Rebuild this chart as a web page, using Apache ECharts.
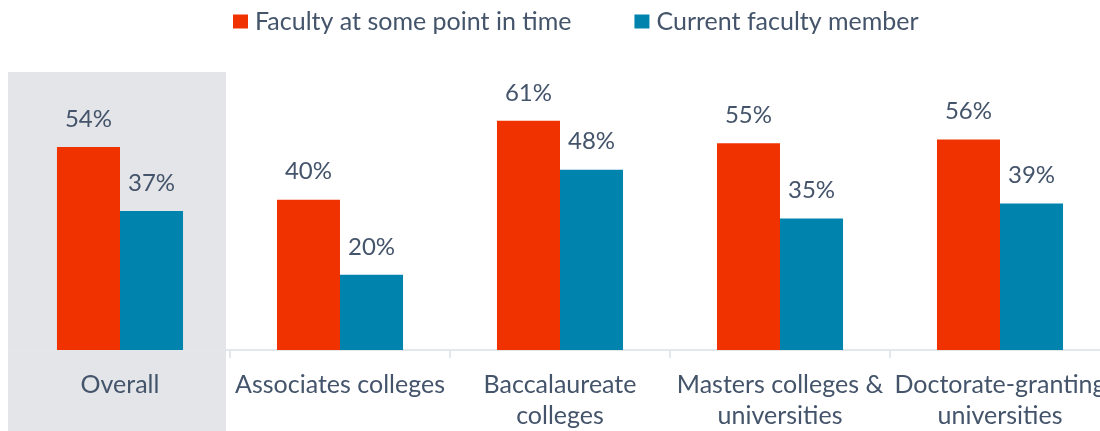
<!DOCTYPE html>
<html>
<head>
<meta charset="utf-8">
<script src="https://cdn.jsdelivr.net/npm/echarts@6/dist/echarts.min.js"></script>
<style>
  html, body { margin: 0; padding: 0; background: #ffffff; }
  #chart { width: 1100px; height: 431px; }
</style>
</head>
<body>
<div id="chart"></div>
<script>
// Share of respondents by institution type
const categories = [
  'Overall',
  'Associates colleges',
  'Baccalaureate\ncolleges',
  'Masters colleges &\nuniversities',
  'Doctorate-granting\nuniversities'
];
const seriesNames = ['Faculty at some point in time', 'Current faculty member'];
const everFaculty = [54, 40, 61, 55, 56];
const currentFaculty = [37, 20, 48, 35, 39];

const TEXT = '#44546A';
const FONT = 'Lato';
const RED = '#F03200';
const TEAL = '#0084AD';

const chart = echarts.init(document.getElementById('chart'), null, { renderer: 'canvas' });

const labelStyle = {
  show: true,
  position: 'top',
  distance: 16,
  color: TEXT,
  fontFamily: FONT,
  fontSize: 24,
  lineHeight: 24,
  formatter: p => p.value + '%'
};

chart.setOption({
  animation: false,
  textStyle: { fontFamily: FONT },
  legend: {
    top: 9,
    left: 233,
    padding: 0,
    itemWidth: 15,
    itemHeight: 14,
    itemGap: 63,
    icon: 'rect',
    textStyle: { color: TEXT, fontFamily: FONT, fontSize: 25, padding: [0, 0, 0, 2] },
    data: seriesNames
  },
  // The last group runs past the right edge, as on the printed figure
  grid: { left: 10, width: 1100, top: 87, bottom: 81, containLabel: false, outerBoundsMode: 'none' },
  xAxis: {
    type: 'category',
    data: categories,
    axisLine: { show: true, lineStyle: { color: '#E3E6EA', width: 2 } },
    axisTick: { show: true, length: 8, lineStyle: { color: '#E3E6EA', width: 2 } },
    axisLabel: {
      interval: 0,
      margin: 19,
      color: TEXT,
      fontFamily: FONT,
      fontSize: 25,
      lineHeight: 31,
      hideOverlap: false
    }
  },
  yAxis: { type: 'value', min: 0, max: 70, show: false, splitLine: { show: false } },
  series: [
    {
      name: seriesNames[0],
      type: 'bar',
      data: everFaculty,
      itemStyle: { color: RED },
      barGap: '0%',
      barCategoryGap: '42.7%',
      label: labelStyle
    },
    {
      name: seriesNames[1],
      type: 'bar',
      data: currentFaculty,
      itemStyle: { color: TEAL },
      barGap: '0%',
      barCategoryGap: '42.7%',
      label: labelStyle
    }
  ]
});

// Shaded backdrop behind the "Overall" group, sized from the category band
const center = chart.convertToPixel({ xAxisIndex: 0 }, categories[0]);
const bandTop = chart.convertToPixel({ yAxisIndex: 0 }, 74);
chart.setOption({
  graphic: [{
    type: 'rect',
    z: -1,
    silent: true,
    shape: { x: center - 112, y: bandTop, width: 218, height: 431 - bandTop },
    style: { fill: '#E4E5E9' }
  }]
});
</script>
</body>
</html>
